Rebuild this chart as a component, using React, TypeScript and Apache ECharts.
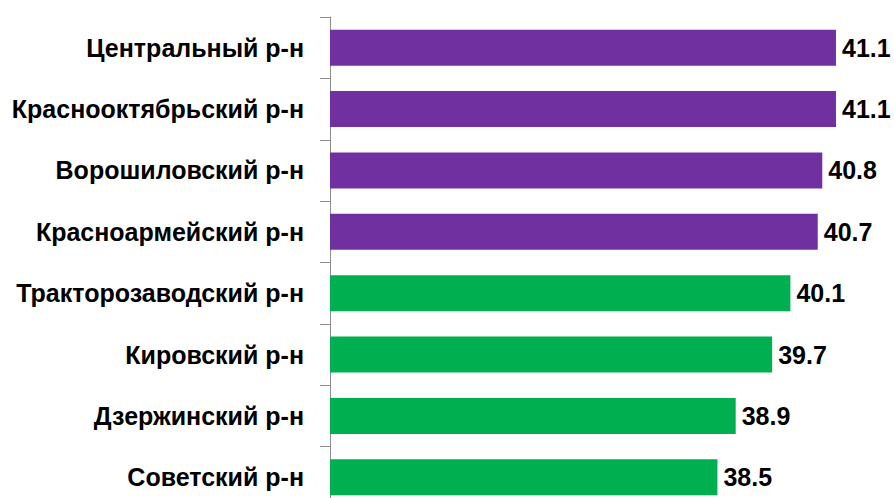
import React, { useEffect, useRef } from "react";
import * as echarts from "echarts";

const categories = [
  "Центральный р-н",
  "Краснооктябрьский р-н",
  "Ворошиловский р-н",
  "Красноармейский р-н",
  "Тракторозаводский р-н",
  "Кировский р-н",
  "Дзержинский р-н",
  "Советский р-н",
];
const values = [41.1, 41.1, 40.8, 40.7, 40.1, 39.7, 38.9, 38.5];
const groups = ["top", "top", "top", "top", "rest", "rest", "rest", "rest"];

const groupColor: Record<string, string> = { top: "#7030A0", rest: "#00B050" };

export default function App() {
  const ref = useRef<HTMLDivElement>(null);
  useEffect(() => {
    document.body.style.margin = "0";
    document.body.style.overflow = "hidden";
    const chart = echarts.init(ref.current!, null, { renderer: "svg" });
    const font = "'Liberation Sans', Arial, sans-serif";
    chart.setOption({
      animation: false,
      backgroundColor: "#ffffff",
      grid: { left: 330, top: 17, width: 547, height: 491, containLabel: false },
      xAxis: {
        type: "value",
        min: 30,
        max: 42,
        show: false,
        splitLine: { show: false },
      },
      yAxis: {
        type: "category",
        inverse: true,
        data: categories,
        axisLine: { show: true, lineStyle: { color: "#8c8c8c", width: 1 } },
        axisTick: { show: true, length: 10, lineStyle: { color: "#8c8c8c" } },
        axisLabel: {
          margin: 26,
          color: "#000000",
          fontFamily: font,
          fontWeight: "bold",
          fontSize: 25,
        },
      },
      series: [
        {
          type: "bar",
          barWidth: 36,
          data: values.map((v, i) => ({
            value: v,
            itemStyle: { color: groupColor[groups[i]] },
          })),
          label: {
            show: true,
            position: "right",
            distance: 6,
            color: "#000000",
            fontFamily: font,
            fontWeight: "bold",
            fontSize: 25,
            formatter: (p: any) => p.value.toFixed(1),
          },
        },
      ],
    });
    return () => chart.dispose();
  }, []);
  return (
    <div style={{ position: "fixed", left: 0, top: 0, width: 894, height: 498, overflow: "hidden" }}>
      <div ref={ref} style={{ width: 894, height: 520 }} />
    </div>
  );
}
